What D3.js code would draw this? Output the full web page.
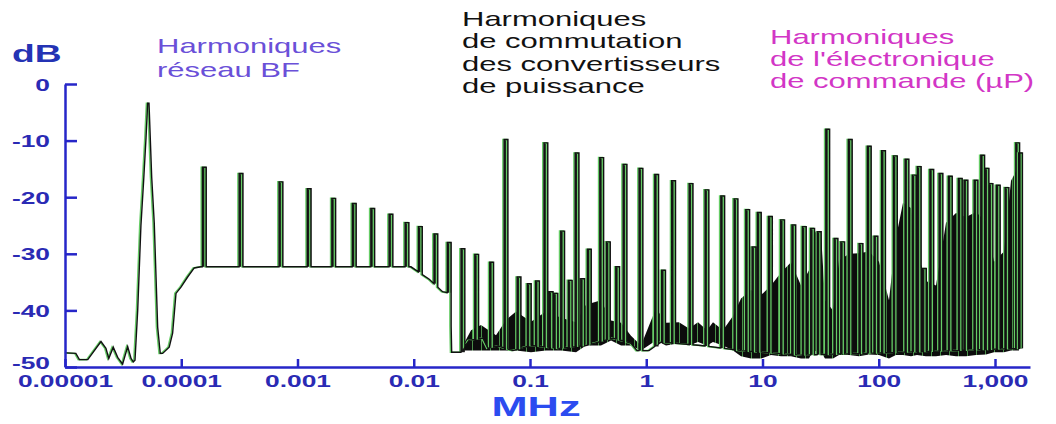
<!DOCTYPE html>
<html>
<head>
<meta charset="utf-8">
<script src="https://cdn.jsdelivr.net/npm/d3@7"></script>
<style>
  body { margin: 0; background: #fff; }
  svg { display: block; }
</style>
</head>
<body>
<div id="chart"></div>
<script>
// Baseline of the spectrum (MHz, dB): mains region, then the floor under the harmonics
var baseFreq = [1.02e-5, 1.24e-5, 1.33e-5, 1.57e-5, 2.04e-5, 2.25e-5, 2.38e-5, 2.60e-5, 2.84e-5, 3.13e-5,
  3.46e-5, 3.70e-5, 3.87e-5, 4.0e-5, 4.22e-5, 4.50e-5, 4.75e-5, 4.98e-5, 5.14e-5, 5.28e-5,
  5.57e-5, 5.86e-5, 6.27e-5, 6.60e-5, 6.92e-5, 7.88e-5, 8.43e-5, 9.01e-5, 9.95e-5, 1.135e-4,
  1.294e-4, 1.479e-4, 9.46e-3, 0.0136, 0.0177, 0.0207, 0.0212, 0.0255, 0.0299, 0.0394,
  0.0435, 0.0530, 0.0714, 0.102, 0.178, 0.303, 0.518, 0.739, 0.833, 1.056,
  1.339, 2.958, 6.533, 21.44, 155.4, 1707];
var baseDb = [-47.5, -47.6, -48.7, -48.7, -45.5, -46.7, -48.5, -46.5, -48.3, -49.5,
  -46.4, -48.5, -49.1, -48.8, -40, -25, -17, -9.4, -3.4, -3.4,
  -16.5, -24.6, -43, -47.6, -47.6, -46.5, -44, -37, -35.9, -34.1,
  -32.5, -32.3, -32.3, -34.5, -36.7, -37.0, -47.4, -47.4, -45.3, -44.9,
  -46.7, -46.3, -47.1, -46.2, -46.7, -46.2, -44.9, -45.8, -47.1, -47.1,
  -45.6, -46.2, -47.1, -47.9, -47.4, -46.7];

// Harmonic spikes (MHz, peak dB)
var spikeFreq = [1.58e-4, 3.27e-4, 7.21e-4, 1.26e-3, 2.05e-3, 3.08e-3, 4.44e-3, 6.37e-3, 8.75e-3, 0.0114,
  0.0155, 0.0202, 0.0265, 0.0348, 0.0468, 0.0622, 0.0805, 0.0986, 0.116, 0.137,
  0.152, 0.167, 0.191, 0.222, 0.254, 0.284, 0.324, 0.414, 0.472, 0.568,
  0.657, 0.901, 1.23, 1.41, 1.72, 2.43, 3.33, 4.55, 5.92, 7.46,
  8.45, 9.39, 11.7, 14.9, 18.6, 22.9, 27.0, 30.8, 36.4, 42.9,
  49.0, 56.9, 70.4, 82.9, 94.7, 110, 139, 175, 202, 223,
  247, 286, 343, 413, 503, 563, 687, 784, 854, 924,
  1067, 1268, 1568, 1658];
var spikeDb = [-14.7, -15.8, -17.3, -18.5, -20.2, -21.1, -22.0, -23.0, -24.5, -25.2,
  -26.5, -28.0, -29.1, -30.1, -31.5, -9.8, -34.1, -35.3, -34.8, -10.4,
  -36.7, -37.0, -26.0, -34.7, -12.2, -34.4, -29.2, -13.0, -27.9, -32.3,
  -14.2, -14.9, -16.0, -32.9, -17.1, -17.6, -18.7, -19.8, -20.3, -22.2,
  -28.8, -22.7, -23.4, -24.0, -24.9, -25.2, -25.5, -26.1, -8.0, -27.3,
  -27.9, -9.8, -28.2, -11.0, -26.9, -11.8, -12.7, -13.3, -16.1, -14.6,
  -32.6, -15.1, -15.8, -16.3, -16.7, -17.0, -17.0, -12.6, -14.9, -17.6,
  -17.9, -18.3, -10.4, -12.2];

// Dense noise band between harmonics (MHz, upper dB, lower dB)
var noiseFreq = [0.0265, 0.0311, 0.0379, 0.0510, 0.0622, 0.0758, 0.102, 0.137, 0.185, 0.249,
  0.303, 0.408, 0.498, 0.607, 0.739, 0.901, 1.213, 1.479, 1.913, 2.331,
  2.788, 3.331, 3.751, 4.573, 5.575, 6.533, 7.962, 9.707, 11.83, 14.43,
  17.59, 21.44, 25.12, 27.19, 31.86, 34.47, 40.42, 45.51, 55.48, 67.63,
  82.44, 100.5, 122.5, 140.7, 161.7, 189.4, 213.3, 255.0, 310.8, 378.9,
  461.9, 563.1, 686.6, 836.8, 980.4, 1195, 1373, 1609];
var noiseTop = [-46.2, -43.5, -42.6, -44.4, -41.7, -40.2, -42.0, -40.2, -41.3, -42.1,
  -39.0, -38.2, -41.8, -42.2, -44.5, -46.2, -39.6, -42.2, -42.1, -43.2,
  -42.1, -43.5, -42.1, -43.5, -41.0, -37.9, -36.4, -37.3, -35.6, -33.3,
  -31.5, -35.6, -32.9, -26.2, -26.2, -38.2, -40.0, -31.2, -30.0, -29.9,
  -29.6, -31.4, -38.2, -27.1, -21.0, -21.9, -29.6, -34.8, -35.6, -24.5,
  -22.8, -23.5, -22.6, -24.4, -31.4, -29.6, -17.1, -14.4];
var noiseBottom = [-47.1, -47.1, -47.1, -47.1, -47.1, -47.1, -47.4, -47.1, -47.1, -47.4,
  -46.2, -46.2, -45.3, -46.2, -46.2, -47.1, -45.3, -46.2, -45.8, -46.2,
  -45.6, -46.2, -45.6, -46.2, -47.1, -48.1, -48.5, -48.5, -47.9, -48.1,
  -48.1, -48.5, -48.5, -47.1, -47.4, -48.5, -48.5, -47.9, -47.9, -48.1,
  -47.8, -47.9, -48.5, -47.9, -47.9, -48.1, -47.9, -48.1, -48.1, -47.9,
  -48.1, -48.1, -47.9, -47.8, -47.4, -47.4, -47.1, -47.1];

// Axes
var xTicks = [1e-5, 1e-4, 1e-3, 1e-2, 0.1, 1, 10, 100, 1000];
var xTickLabels = ["0.00001", "0.0001", "0.001", "0.01", "0.1", "1", "10", "100", "1,000"];
var yTicks = [0, -10, -20, -30, -40, -50];

var width = 1056, height = 424;
var stretch = 1.55;  // the picture is stretched horizontally
var axisColor = "#2626c8";
var labelColor = "#2a2ab4";
var fontFamily = "Arial, 'Liberation Sans', sans-serif";

var svg = d3.select("#chart").append("svg")
  .attr("width", width)
  .attr("height", height);

var x = d3.scaleLog().domain([1e-5, 2000]).range([65, 1030]);
var y = d3.scaleLinear().domain([-50, 0]).range([367, 84]);

//Hatch for the noise band: black with a few green streaks
var pat = svg.append("defs").append("pattern")
  .attr("id", "hatch")
  .attr("patternUnits", "userSpaceOnUse")
  .attr("width", 9)
  .attr("height", 10);
pat.append("rect").attr("width", 9).attr("height", 10).attr("fill", "#0c0c0c");
pat.append("rect").attr("x", 4).attr("width", 1).attr("height", 10).attr("fill", "#4a8f4a");

//Noise band
var noise = noiseFreq.map(function(f, i) { return { f: f, top: noiseTop[i], bottom: noiseBottom[i] }; });
svg.append("path")
  .datum(noise)
  .attr("d", d3.area()
    .x(function(d) { return x(d.f); })
    .y0(function(d) { return y(d.bottom); })
    .y1(function(d) { return y(d.top); }))
  .attr("fill", "url(#hatch)");

//Spectrum trace: baseline with the spikes inserted
var base = baseFreq.map(function(f, i) { return [x(f), y(baseDb[i])]; });
function baseAt(px) {
  if (px <= base[0][0]) return base[0][1];
  for (var i = 1; i < base.length; i++) {
    if (px <= base[i][0]) {
      var t = (px - base[i - 1][0]) / (base[i][0] - base[i - 1][0]);
      return base[i - 1][1] + t * (base[i][1] - base[i - 1][1]);
    }
  }
  return base[base.length - 1][1];
}
var half = 1.9;
var spikes = spikeFreq.map(function(f, i) {
  var px = x(f);
  return { l: px - half, r: px + half, top: y(spikeDb[i]) };
});
var items = base.map(function(p) { return { k: p[0], p: p }; })
  .concat(spikes.map(function(s) { return { k: s.l, s: s }; }));
items.sort(function(a, b) { return a.k - b.k; });
var pts = [];
items.forEach(function(it) {
  if (it.p) {
    var inside = spikes.some(function(s) { return it.k > s.l && it.k < s.r; });
    if (!inside) pts.push(it.p);
  } else {
    var s = it.s;
    pts.push([s.l, baseAt(s.l)], [s.l, s.top], [s.r, s.top], [s.r, baseAt(s.r)]);
  }
});

//Spike cores
svg.append("g").selectAll("rect")
  .data(spikes)
  .enter()
  .append("rect")
  .attr("x", function(d) { return d.l; })
  .attr("y", function(d) { return d.top; })
  .attr("width", function(d) { return d.r - d.l; })
  .attr("height", function(d) { return Math.max(0, baseAt(d.l) - d.top); })
  .attr("fill", "#181818");

var line = d3.line();
svg.append("path")
  .attr("d", line(pts))
  .attr("transform", "translate(-1.2,0)")
  .attr("fill", "none")
  .attr("stroke", "#66cc66")
  .attr("stroke-width", 1.6);
svg.append("path")
  .attr("d", line(pts))
  .attr("fill", "none")
  .attr("stroke", "#111")
  .attr("stroke-width", 1.4);

//Y axis
var yAxis = svg.append("g")
  .attr("transform", "translate(65,0)")
  .call(d3.axisLeft(y).tickValues(yTicks).tickSize(-12).tickSizeOuter(0)
    .tickFormat(function(d) { return String(d); }))
  .attr("font-family", fontFamily)
  .attr("font-size", 17)
  .attr("font-weight", "bold");
yAxis.select(".domain").attr("stroke", axisColor).attr("stroke-width", 2.5);
yAxis.selectAll(".tick line").attr("stroke", axisColor).attr("stroke-width", 2.5);
yAxis.selectAll(".tick text")
  .attr("x", 0).attr("dy", 0)
  .attr("fill", labelColor)
  .attr("transform", function(d) {
    return "translate(-15," + (d === -50 ? 1 : 6) + ") scale(" + stretch + ",1)";
  });

//X axis
var xAxis = svg.append("g")
  .attr("transform", "translate(0,367)")
  .call(d3.axisBottom(x).tickValues(xTicks).tickSize(-8).tickSizeOuter(0)
    .tickFormat(function(d, i) { return xTickLabels[i]; }))
  .attr("font-family", fontFamily)
  .attr("font-size", 17)
  .attr("font-weight", "bold");
xAxis.select(".domain").attr("stroke", axisColor).attr("stroke-width", 2.5);
xAxis.selectAll(".tick line").attr("stroke", axisColor).attr("stroke-width", 2.5);
xAxis.selectAll(".tick text")
  .attr("y", 0).attr("dy", 0)
  .attr("fill", labelColor)
  .attr("transform", "translate(0,20) scale(" + stretch + ",1)");

//Texts
function stretchedText(x0, y0, str, size, weight, fill, anchor) {
  svg.append("text")
    .attr("transform", "translate(" + x0 + "," + y0 + ") scale(" + stretch + ",1)")
    .attr("font-family", fontFamily)
    .attr("font-size", size)
    .attr("font-weight", weight)
    .attr("fill", fill)
    .attr("text-anchor", anchor || "start")
    .text(str);
}
stretchedText(12, 62, "dB", 24, "bold", "#2433b4");
stretchedText(536, 416, "MHz", 28, "bold", "#2b4cf0", "middle");

stretchedText(157, 53, "Harmoniques", 20, "normal", "#6a50d8");
stretchedText(157, 77, "réseau BF", 20, "normal", "#6a50d8");

["Harmoniques", "de commutation", "des convertisseurs", "de puissance"].forEach(function(t, i) {
  stretchedText(462, 26 + i * 22.3, t, 20, "normal", "#111");
});
["Harmoniques", "de l'électronique", "de commande (µP)"].forEach(function(t, i) {
  stretchedText(770, 44 + i * 22, t, 20, "normal", "#d236c6");
});
</script>
</body>
</html>
